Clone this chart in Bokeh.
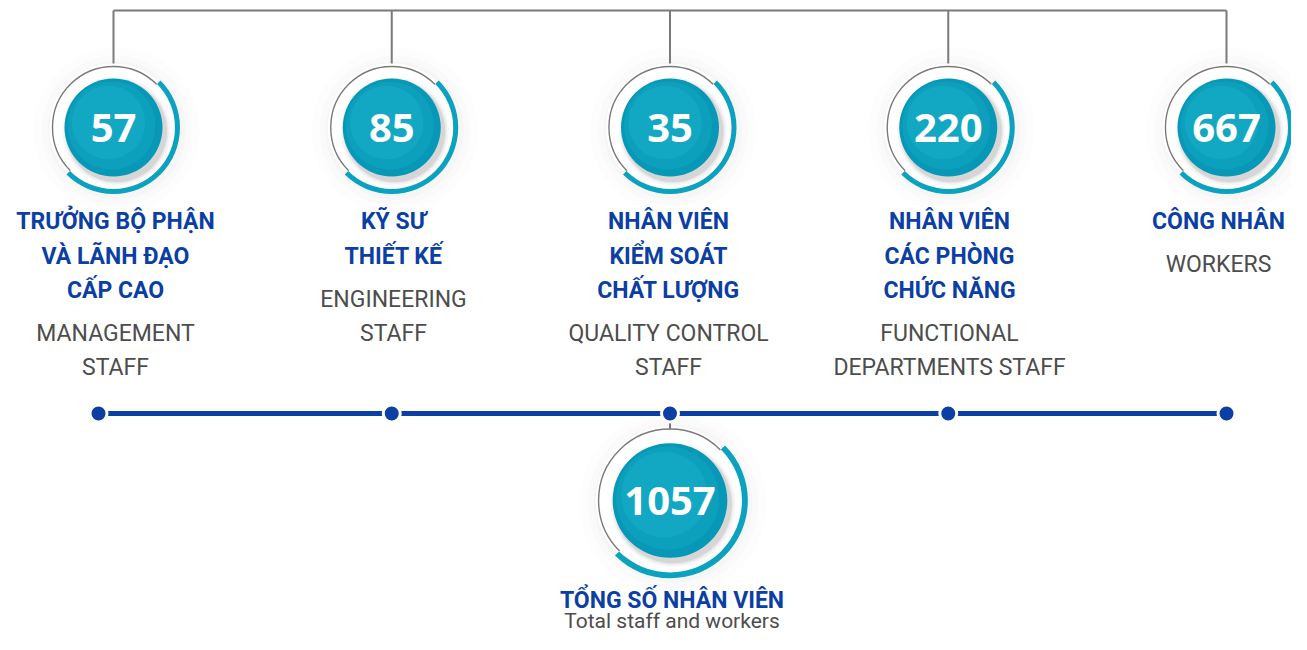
import math
from bokeh.plotting import figure
from bokeh.models import Range1d
from bokeh.core.properties import value
from bokeh.embed import file_html
from bokeh.resources import INLINE

# ---------------- data ----------------
counts = [57, 85, 35, 220, 667]
total = 1057
vn_labels = [
    ["TRƯỞNG BỘ PHẬN", "VÀ LÃNH ĐẠO", "CẤP CAO"],
    ["KỸ SƯ", "THIẾT KẾ"],
    ["NHÂN VIÊN", "KIỂM SOÁT", "CHẤT LƯỢNG"],
    ["NHÂN VIÊN", "CÁC PHÒNG", "CHỨC NĂNG"],
    ["CÔNG NHÂN"],
]
en_labels = [
    ["MANAGEMENT", "STAFF"],
    ["ENGINEERING", "STAFF"],
    ["QUALITY CONTROL", "STAFF"],
    ["FUNCTIONAL", "DEPARTMENTS STAFF"],
    ["WORKERS"],
]
total_vn = "TỔNG SỐ NHÂN VIÊN"
total_en = "Total staff and workers"

# ---------------- style / layout ----------------
W, H = 1291, 634
BLUE = "#0b3fa3"
TEAL = "#0aa2bf"
CIRCLE = "#0698b6"
GREY_LINE = "#7a7a7a"
EN_COL = "#4d4d4d"
HEAD_FONT = "Roboto"
NUM_FONT = "Open Sans"

p = figure(width=W, height=H, output_backend="svg", toolbar_location=None,
           x_range=Range1d(0, W), y_range=Range1d(-H, 0),
           min_border=0)
p.axis.visible = False
p.grid.visible = False
p.outline_line_color = None
p.background_fill_color = "white"
p.border_fill_color = "white"

n = len(counts)
x0, step = 113, 278.25
xs = [x0 + i * step for i in range(n)]
text_xs = [115, 393, 668, 949, 1218]
cy = -127
top_y = -10

r_in, r_ring, r_arc_in, r_arc_out = 49, 61, 61.5, 66.5

def badge(x, y, s, label):
    # soft glow / shadow
    for k, a in [(22, 0.025), (14, 0.03), (8, 0.04)]:
        p.circle(x=[x + 3], y=[y - 3], radius=r_ring * s + k, fill_color="#9a9a9a",
                 fill_alpha=a, line_color=None)
    p.circle(x=[x], y=[y], radius=r_ring * s + 3, fill_color="white", line_color=None)
    for k, a in [(5, 0.05), (3, 0.08), (1.5, 0.12)]:
        p.circle(x=[x + 3], y=[y - 4], radius=r_in * s + k, fill_color="#555555",
                 fill_alpha=a, line_color=None)
    p.circle(x=[x], y=[y], radius=r_in * s, fill_color=CIRCLE, line_color=None)
    p.circle(x=[x - 2 * s], y=[y + 2 * s], radius=r_in * s * 0.9, fill_color="#1ab4cc",
             fill_alpha=0.30, line_color=None)
    p.circle(x=[x - 5 * s], y=[y + 5 * s], radius=r_in * s * 0.75, fill_color="#22bcd2",
             fill_alpha=0.25, line_color=None)
    p.arc(x=[x], y=[y], radius=r_ring * s, start_angle=math.radians(45),
          end_angle=math.radians(225), direction="anticlock",
          line_color=GREY_LINE, line_width=1.4)
    p.annular_wedge(x=[x], y=[y], inner_radius=r_arc_in * s, outer_radius=r_arc_out * s,
                    start_angle=math.radians(-135), end_angle=math.radians(45),
                    direction="anticlock", fill_color=TEAL, line_color=None)
    p.text(x=[x], y=[y], text=[label], text_align="center", text_baseline="middle",
           text_color="white", text_font=value(NUM_FONT), text_font_style="bold",
           text_font_size="40px")

# top connector lines
p.line(x=[xs[0], xs[-1]], y=[top_y, top_y], line_color=GREY_LINE, line_width=2)
for x in xs:
    p.line(x=[x, x], y=[top_y, cy + r_ring], line_color=GREY_LINE, line_width=2)

for i, x in enumerate(xs):
    badge(x, cy, 1.0, str(counts[i]))
    tx = text_xs[i]
    vy = -221
    for line in vn_labels[i]:
        p.text(x=[tx], y=[vy], text=[line], text_align="center", text_baseline="middle",
               text_color=BLUE, text_font=value(HEAD_FONT), text_font_style="bold",
               text_font_size="23px")
        vy -= 34.5
    ey = vy - 8.5
    for line in en_labels[i]:
        p.text(x=[tx], y=[ey], text=[line], text_align="center", text_baseline="middle",
               text_color=EN_COL, text_font=value(HEAD_FONT),
               text_font_size="23px")
        ey -= 34

# timeline
ty = -413
dots_x = [98] + xs[1:]
bx = xs[2]
by = -500
s_big = 1.17
badge(bx, by, s_big, str(total))
p.line(x=[bx, bx], y=[ty, by + r_ring * s_big], line_color=GREY_LINE, line_width=2)
p.line(x=[dots_x[0], dots_x[-1]], y=[ty, ty], line_color=BLUE, line_width=5)
p.scatter(x=dots_x, y=[ty] * len(dots_x), size=17, fill_color=BLUE,
          line_color="white", line_width=3)

p.text(x=[bx + 2], y=[-600], text=[total_vn], text_align="center", text_baseline="middle",
       text_color=BLUE, text_font=value(HEAD_FONT), text_font_style="bold",
       text_font_size="23px")
p.text(x=[bx + 2], y=[-632], text=[total_en], text_align="center", text_baseline="bottom",
       text_color=EN_COL, text_font=value(HEAD_FONT), text_font_size="21px")

open("out.html", "w").write(file_html(p, INLINE))
